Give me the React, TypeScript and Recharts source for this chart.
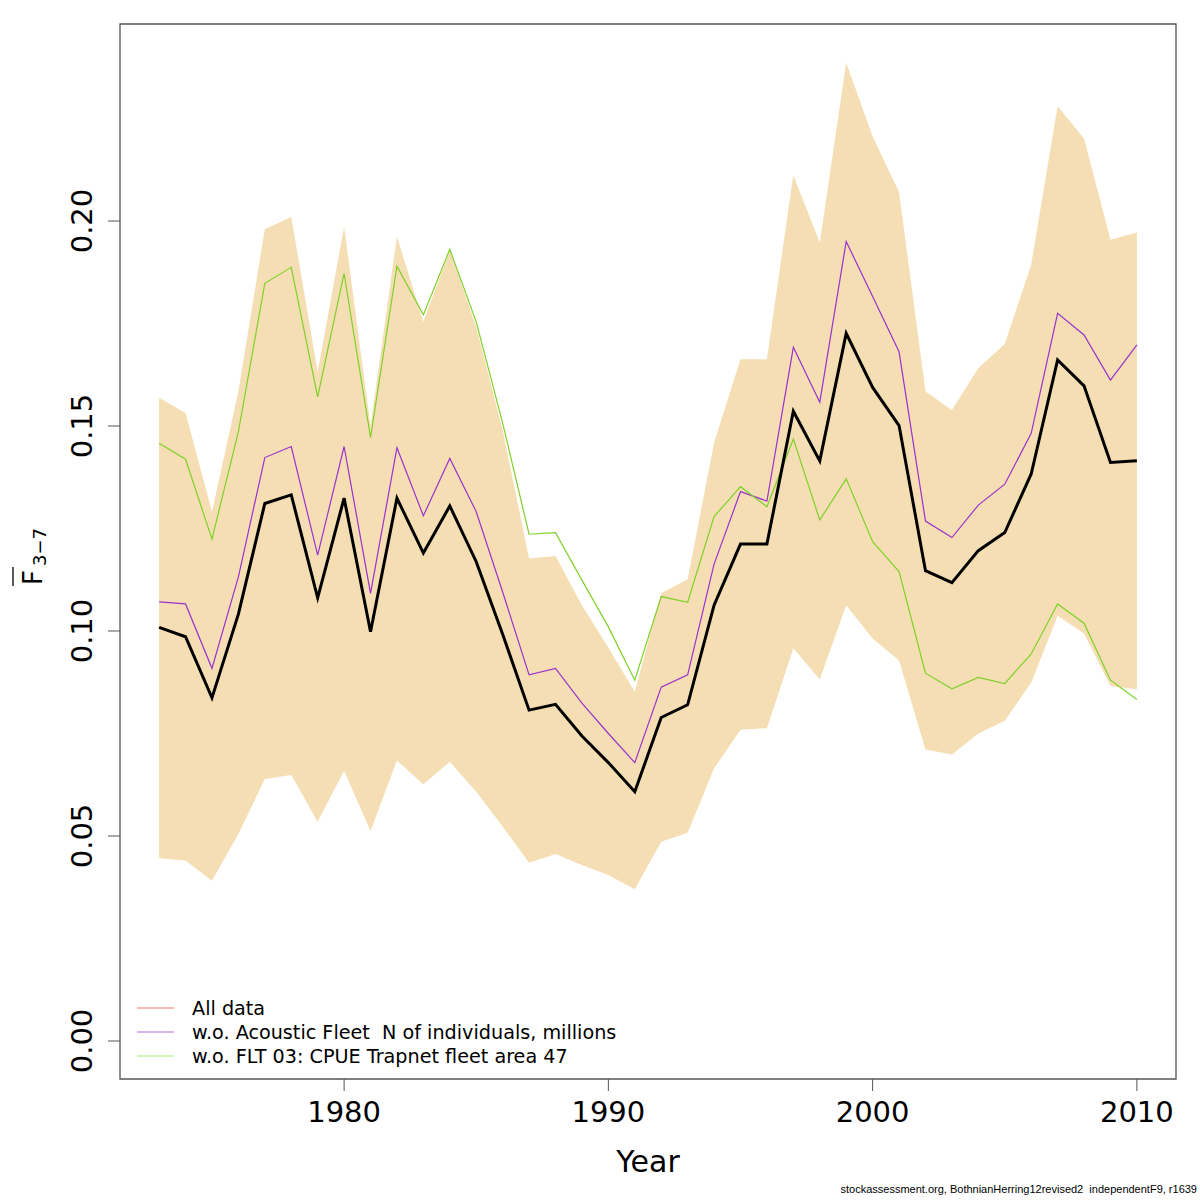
import * as React from 'react'
import { Area, ComposedChart, Line, ReferenceArea, XAxis, YAxis } from 'recharts'

// fishing mortality Fbar(3-7), leave-one-fleet-out runs
const years = [
  1973, 1974, 1975, 1976, 1977, 1978, 1979, 1980, 1981, 1982, 1983, 1984, 1985, 1986, 1987, 1988, 1989, 1990, 1991,
  1992, 1993, 1994, 1995, 1996, 1997, 1998, 1999, 2000, 2001, 2002, 2003, 2004, 2005, 2006, 2007, 2008, 2009, 2010,
]
const allData = [
  0.1009, 0.0986, 0.0837, 0.1041, 0.1311, 0.1332, 0.1081, 0.1324, 0.0998, 0.1324, 0.119, 0.1305, 0.1169, 0.0992,
  0.0807, 0.0821, 0.0744, 0.0679, 0.0608, 0.0789, 0.082, 0.1063, 0.1212, 0.1212, 0.1536, 0.1415, 0.1726, 0.1594,
  0.1501, 0.1147, 0.1118, 0.1196, 0.124, 0.1383, 0.1661, 0.1598, 0.1411, 0.1415,
]
const noAcoustic = [
  0.1071, 0.1066, 0.0909, 0.1132, 0.1423, 0.145, 0.1185, 0.145, 0.1092, 0.1447, 0.1281, 0.1421, 0.1291, 0.1095,
  0.0893, 0.0909, 0.0824, 0.075, 0.0679, 0.0863, 0.0893, 0.1163, 0.134, 0.1317, 0.1692, 0.1558, 0.195, 0.1816,
  0.1681, 0.1268, 0.1228, 0.1307, 0.1358, 0.1482, 0.1775, 0.1722, 0.1612, 0.1698,
]
const noTrapnet = [
  0.1458, 0.1419, 0.1224, 0.1486, 0.1848, 0.1887, 0.1571, 0.1872, 0.1472, 0.189, 0.1771, 0.1931, 0.1754, 0.1507,
  0.1236, 0.124, 0.1124, 0.101, 0.088, 0.1084, 0.107, 0.1279, 0.1352, 0.1303, 0.1468, 0.1271, 0.1371, 0.1218,
  0.1145, 0.0897, 0.0859, 0.0887, 0.0872, 0.0944, 0.1066, 0.1019, 0.088, 0.0833,
]
const bandHigh = [
  0.1569, 0.1532, 0.1291, 0.1584, 0.198, 0.201, 0.1632, 0.1986, 0.15, 0.1962, 0.1754, 0.1929, 0.1742, 0.149,
  0.1177, 0.1183, 0.1063, 0.0959, 0.0852, 0.1092, 0.1126, 0.1459, 0.1663, 0.1663, 0.2112, 0.1947, 0.2386, 0.2206,
  0.2071, 0.1584, 0.1539, 0.1641, 0.17, 0.1893, 0.228, 0.2201, 0.1954, 0.1972,
]
const bandLow = [
  0.0446, 0.044, 0.0391, 0.0505, 0.0639, 0.0649, 0.0535, 0.0659, 0.0512, 0.0684, 0.0626, 0.0681, 0.0608, 0.0523,
  0.0435, 0.0456, 0.0429, 0.0405, 0.037, 0.0486, 0.0508, 0.0665, 0.0759, 0.0763, 0.0958, 0.0882, 0.1063, 0.0982,
  0.0928, 0.0711, 0.0699, 0.075, 0.0781, 0.0874, 0.1037, 0.0994, 0.0866, 0.0858,
]
const xTicks = [1980, 1990, 2000, 2010]
const yTicks = [0, 0.05, 0.1, 0.15, 0.2]
const legendLabels = ['All data', 'w.o. Acoustic Fleet  N of individuals, millions', 'w.o. FLT 03: CPUE Trapnet fleet area 47']
const legendColors = ['#f6a3a3', '#c79fe3', '#c3efa2']

const X_DOMAIN = [1971.52, 2011.48]
const Y_DOMAIN = [-0.00927, 0.24805]
const FONT = '"DejaVu Sans", sans-serif'

const data = years.map((year, i) => ({
  year,
  band: [bandLow[i], bandHigh[i]],
  all: allData[i],
  acoustic: noAcoustic[i],
  trapnet: noTrapnet[i],
}))

function YTick({ y, payload }: any) {
  const x = 92
  return (
    <text
      x={x}
      y={y}
      transform={`rotate(-90 ${x} ${y})`}
      textAnchor="middle"
      fontSize={29}
      fontFamily={FONT}
      fill="#000"
    >
      {payload.value.toFixed(2)}
    </text>
  )
}

export default function App() {
  return (
    <div style={{ position: 'absolute', left: 0, top: 0, width: 1200, height: 1200, background: '#fff' }}>
      <ComposedChart width={1200} height={1200} data={data} margin={{ top: 24, right: 24, bottom: 61, left: 0 }}>
        <XAxis
          dataKey="year"
          type="number"
          domain={X_DOMAIN}
          ticks={xTicks}
          allowDataOverflow
          axisLine={false}
          tickSize={12}
          tickMargin={10}
          tickLine={{ stroke: '#555' }}
          tick={{ fontSize: 29, fill: '#000', fontFamily: FONT }}
          height={60}
        />
        <YAxis
          type="number"
          domain={Y_DOMAIN}
          ticks={yTicks}
          allowDataOverflow
          axisLine={false}
          tickSize={12}
          tickLine={{ stroke: '#555' }}
          tick={<YTick />}
          width={120}
        />
        <Area
          dataKey="band"
          type="linear"
          fill="#f5deb3"
          fillOpacity={1}
          stroke="none"
          isAnimationActive={false}
        />
        <Line dataKey="acoustic" type="linear" stroke="#9a32cd" strokeWidth={1.2} dot={false} isAnimationActive={false} />
        <Line dataKey="trapnet" type="linear" stroke="#7fd02a" strokeWidth={1.2} dot={false} isAnimationActive={false} />
        <Line dataKey="all" type="linear" stroke="#000" strokeWidth={3} dot={false} isAnimationActive={false} />
        <ReferenceArea
          x1={X_DOMAIN[0]}
          x2={X_DOMAIN[1]}
          y1={Y_DOMAIN[0]}
          y2={Y_DOMAIN[1]}
          fill="none"
          stroke="#555"
          strokeWidth={1.3}
          ifOverflow="visible"
        />
      </ComposedChart>
      <svg width={1200} height={1200} style={{ position: 'absolute', left: 0, top: 0, pointerEvents: 'none' }}>
        {legendLabels.map((label, i) => (
          <g key={label}>
            <line x1={137} x2={174} y1={1008 + i * 24} y2={1008 + i * 24} stroke={legendColors[i]} strokeWidth={1.5} />
            <text x={192} y={1015 + i * 24} fontSize={19.2} fontFamily={FONT} fill="#000" style={{ whiteSpace: 'pre' }}>
              {label}
            </text>
          </g>
        ))}
        <text x={648} y={1172} textAnchor="middle" fontSize={30} fontFamily={FONT} fill="#000">
          Year
        </text>
        <g transform="translate(42 556) rotate(-90)">
          <text x={-29} y={0} fontSize={26} fontFamily={FONT} fill="#000">
            F
          </text>
          <text x={-10} y={4} fontSize={18} fontFamily={FONT} fill="#000">
            3−7
          </text>
          <line x1={-30} x2={-11} y1={-29} y2={-29} stroke="#000" strokeWidth={1.3} />
        </g>
        <text
          x={1197}
          y={1193}
          textAnchor="end"
          fontSize={11}
          fontFamily='"Liberation Sans", Arial, sans-serif'
          fill="#000"
          style={{ whiteSpace: 'pre' }}
        >
          stockassessment.org, BothnianHerring12revised2  independentF9, r1639
        </text>
      </svg>
    </div>
  )
}
